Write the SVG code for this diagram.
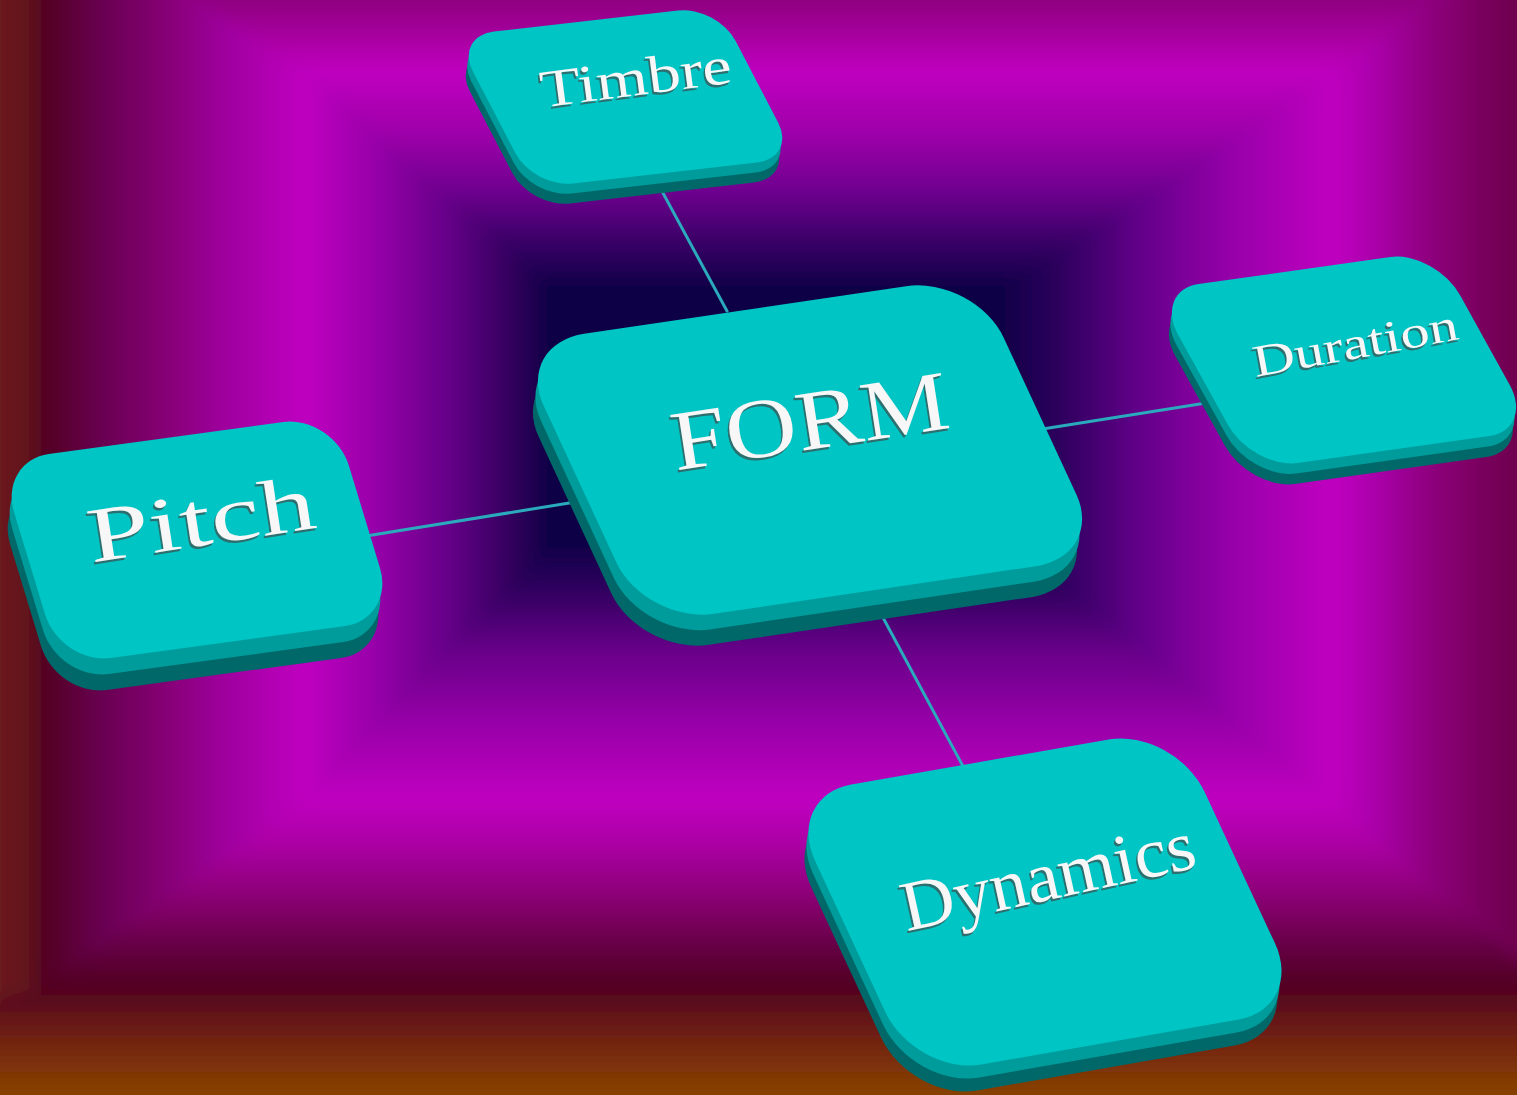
<svg xmlns="http://www.w3.org/2000/svg" width="1517" height="1095" viewBox="0 0 1517 1095">
<defs>
<filter id="soft" filterUnits="userSpaceOnUse" x="-100" y="-100" width="1717" height="1295"><feGaussianBlur stdDeviation="8"/></filter>
<linearGradient id="oTop" gradientUnits="userSpaceOnUse" x1="0" y1="0" x2="0" y2="72"><stop offset="0" stop-color="#8e007e"/><stop offset="1" stop-color="#c000c0"/></linearGradient>
<linearGradient id="oLeft" gradientUnits="userSpaceOnUse" x1="0" y1="0" x2="305" y2="0"><stop offset="0" stop-color="#6a1a1a"/><stop offset="0.1" stop-color="#621420"/><stop offset="0.135" stop-color="#50001e"/><stop offset="0.33" stop-color="#680050"/><stop offset="0.56" stop-color="#880078"/><stop offset="0.75" stop-color="#a000a0"/><stop offset="1" stop-color="#c000c0"/></linearGradient>
<linearGradient id="oRight" gradientUnits="userSpaceOnUse" x1="1517" y1="0" x2="1333" y2="0"><stop offset="0" stop-color="#6e004e"/><stop offset="0.2" stop-color="#7a005e"/><stop offset="0.5" stop-color="#900080"/><stop offset="0.75" stop-color="#a800a8"/><stop offset="1" stop-color="#c000c0"/></linearGradient>
<linearGradient id="oBottom" gradientUnits="userSpaceOnUse" x1="0" y1="1095" x2="0" y2="800"><stop offset="0" stop-color="#884200"/><stop offset="0.12" stop-color="#7a2e0a"/><stop offset="0.22" stop-color="#6c1c14"/><stop offset="0.31" stop-color="#5a0c1c"/><stop offset="0.37" stop-color="#500020"/><stop offset="0.49" stop-color="#620040"/><stop offset="0.66" stop-color="#880070"/><stop offset="0.83" stop-color="#a800a0"/><stop offset="1" stop-color="#c000c0"/></linearGradient>
<linearGradient id="iTop" gradientUnits="userSpaceOnUse" x1="0" y1="72" x2="0" y2="285"><stop offset="0" stop-color="#c000c0"/><stop offset="0.3" stop-color="#9c00a8"/><stop offset="0.55" stop-color="#700090"/><stop offset="0.8" stop-color="#380066"/><stop offset="1" stop-color="#120048"/></linearGradient>
<linearGradient id="iLeft" gradientUnits="userSpaceOnUse" x1="305" y1="0" x2="545" y2="0"><stop offset="0" stop-color="#c000c0"/><stop offset="0.3" stop-color="#9600a8"/><stop offset="0.6" stop-color="#640088"/><stop offset="0.85" stop-color="#34005e"/><stop offset="1" stop-color="#140048"/></linearGradient>
<linearGradient id="iRight" gradientUnits="userSpaceOnUse" x1="1333" y1="0" x2="1005" y2="0"><stop offset="0" stop-color="#c000c0"/><stop offset="0.3" stop-color="#9800aa"/><stop offset="0.6" stop-color="#600088"/><stop offset="0.85" stop-color="#2a005a"/><stop offset="1" stop-color="#120048"/></linearGradient>
<linearGradient id="iBottom" gradientUnits="userSpaceOnUse" x1="0" y1="800" x2="0" y2="548"><stop offset="0" stop-color="#c000c0"/><stop offset="0.3" stop-color="#9800a8"/><stop offset="0.6" stop-color="#660088"/><stop offset="0.85" stop-color="#2c005c"/><stop offset="1" stop-color="#120048"/></linearGradient>
</defs>
<style>
.face{fill:#00c5c5}
.side1{fill:#009c9c}
.side2{fill:#006868}
.conn{stroke:#2aaabc;stroke-width:3;fill:none;stroke-linecap:round}
.label{font-family:"Liberation Serif","Times New Roman",serif;fill:#f7f7f7;text-anchor:middle}
.shadow{font-family:"Liberation Serif","Times New Roman",serif;fill:#3c5050;fill-opacity:0.75;text-anchor:middle}
</style>
<rect x="0" y="0" width="1517" height="1095" fill="#6a0070"/>
<g id="background" filter="url(#soft)">
<polygon points="112,-60 1529,-60 1333,72 305,72" fill="url(#oTop)"/>
<polygon points="-60,-60 112,-60 305,72 305,800 40,990 -60,1010" fill="url(#oLeft)"/>
<polygon points="1529,-60 1577,-60 1577,975 1517,960 1333,800 1333,72" fill="url(#oRight)"/>
<polygon points="-60,1010 40,990 305,800 1333,800 1517,960 1577,975 1577,1155 -60,1155" fill="url(#oBottom)"/>
<polygon points="305,72 1333,72 1005,285 545,285" fill="url(#iTop)"/>
<polygon points="305,72 545,285 545,548 305,800" fill="url(#iLeft)"/>
<polygon points="1333,72 1333,800 1005,548 1005,285" fill="url(#iRight)"/>
<polygon points="305,800 1333,800 1005,548 545,548" fill="url(#iBottom)"/>
<rect x="544" y="284" width="462" height="265" fill="#0e0046"/>
</g>
<g id="connectors">
<line class="conn" x1="657" y1="182" x2="727" y2="311"/>
<line class="conn" x1="360" y1="537" x2="600" y2="498"/>
<line class="conn" x1="1030" y1="431" x2="1225" y2="400"/>
<line class="conn" x1="880" y1="612" x2="965" y2="770"/>
</g>
<g id="node-timbre">
<rect class="side2" x="-50" y="-50" width="100" height="100" rx="15" ry="23" transform="matrix(2.63,-0.30,0.79,1.52,622.5,117)"/>
<rect class="side1" x="-50" y="-50" width="100" height="100" rx="15" ry="23" transform="matrix(2.63,-0.30,0.79,1.52,624,107)"/>
<rect class="face" x="-50" y="-50" width="100" height="100" rx="15" ry="23" transform="matrix(2.63,-0.30,0.79,1.52,625.5,97)"/>
<text class="shadow" font-size="53" transform="translate(636.5,97.5) rotate(-7.5) scale(1.25,1)">Timbre</text>
<text class="label" font-size="53" transform="translate(638,95) rotate(-7.5) scale(1.25,1)">Timbre</text>
</g>
<g id="node-pitch">
<rect class="side2" x="-50" y="-50" width="100" height="100" rx="15" ry="25" transform="matrix(3.35,-0.46,0.62,2.04,193,572)"/>
<rect class="side1" x="-50" y="-50" width="100" height="100" rx="15" ry="25" transform="matrix(3.35,-0.46,0.62,2.04,195,556)"/>
<rect class="face" x="-50" y="-50" width="100" height="100" rx="15" ry="25" transform="matrix(3.35,-0.46,0.62,2.04,197,540)"/>
<text class="shadow" font-size="78" transform="translate(203.5,547.5) rotate(-8.8) scale(1.43,1)">Pitch</text>
<text class="label" font-size="78" transform="translate(205,545) rotate(-8.8) scale(1.43,1)">Pitch</text>
</g>
<g id="node-duration">
<rect class="side2" x="-50" y="-50" width="100" height="100" rx="16" ry="25" transform="matrix(2.82,-0.395,0.99,1.79,1341,381)"/>
<rect class="side1" x="-50" y="-50" width="100" height="100" rx="16" ry="25" transform="matrix(2.82,-0.395,0.99,1.79,1342.5,370.5)"/>
<rect class="face" x="-50" y="-50" width="100" height="100" rx="16" ry="25" transform="matrix(2.82,-0.395,0.99,1.79,1344,360)"/>
<text class="shadow" font-size="45" transform="translate(1356.5,360.5) rotate(-10.6) scale(1.3,1)">Duration</text>
<text class="label" font-size="45" transform="translate(1358,358) rotate(-10.6) scale(1.3,1)">Duration</text>
</g>
<g id="node-dynamics">
<rect class="side2" x="-50" y="-50" width="100" height="100" rx="17" ry="23" transform="matrix(3.90,-0.68,1.30,2.80,1041,928)"/>
<rect class="side1" x="-50" y="-50" width="100" height="100" rx="17" ry="23" transform="matrix(3.90,-0.68,1.30,2.80,1043,915)"/>
<rect class="face" x="-50" y="-50" width="100" height="100" rx="17" ry="23" transform="matrix(3.90,-0.68,1.30,2.80,1045,902)"/>
<text class="shadow" font-size="71" transform="translate(1051.5,901.5) rotate(-12.4) scale(1.04,1)">Dynamics</text>
<text class="label" font-size="71" transform="translate(1053,899) rotate(-12.4) scale(1.04,1)">Dynamics</text>
</g>
<g id="node-form">
<rect class="side2" x="-50" y="-50" width="100" height="100" rx="15" ry="22" transform="matrix(4.60,-0.68,1.30,2.80,805,481)"/>
<rect class="side1" x="-50" y="-50" width="100" height="100" rx="15" ry="22" transform="matrix(4.60,-0.68,1.30,2.80,807.5,465.5)"/>
<rect class="face" x="-50" y="-50" width="100" height="100" rx="15" ry="22" transform="matrix(4.60,-0.68,1.30,2.80,810,450)"/>
<text class="shadow" font-size="85" transform="translate(812.5,451.5) rotate(-8.8) scale(1.16,1)">FORM</text>
<text class="label" font-size="85" transform="translate(814,449) rotate(-8.8) scale(1.16,1)">FORM</text>
</g>
</svg>
